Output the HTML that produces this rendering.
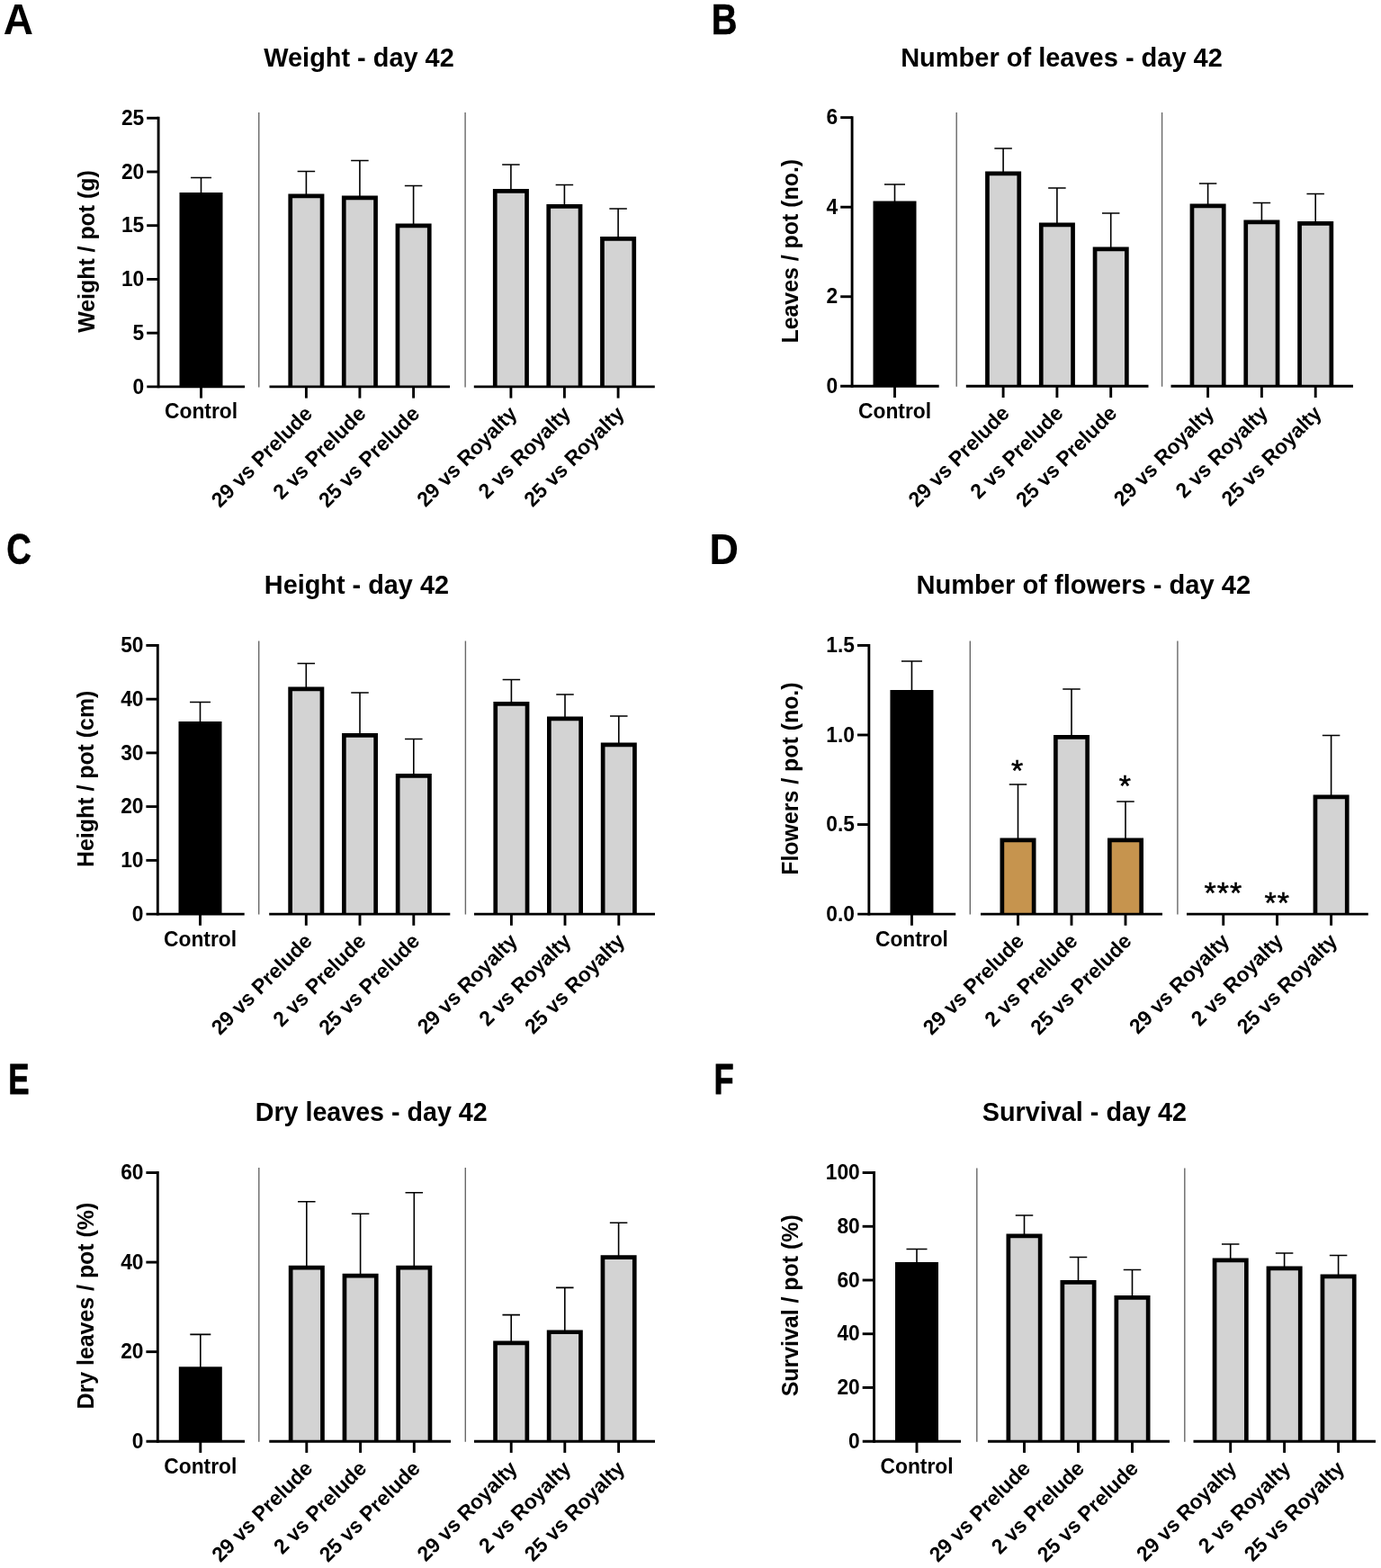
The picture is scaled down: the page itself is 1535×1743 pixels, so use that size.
<!DOCTYPE html>
<html lang="en">
<head>
<meta charset="utf-8">
<title>Plant growth parameters - day 42</title>
<style>
html,body{margin:0;padding:0;background:#fff;}
body{width:1535px;height:1743px;overflow:hidden;}
svg{display:block;}
text{font-family:"Liberation Sans", Arial, Helvetica, sans-serif;font-weight:700;fill:#000;}
.letter{font-size:47.85px;}
.title{text-anchor:middle;}
.ylabel{font-size:24.9px;text-anchor:middle;}
.tl{font-size:22.8px;text-anchor:end;}
.xl{font-size:22.8px;text-anchor:middle;}
.rl{font-size:22.8px;text-anchor:end;}
.star{font-size:34px;text-anchor:middle;font-weight:400;stroke:#000;stroke-width:0.5;letter-spacing:1px;}
.ax{stroke:#000;stroke-width:2.9;fill:none;}
.sep{stroke:#686868;stroke-width:1.4;}
.err{stroke:#000;stroke-width:1.6;fill:none;}
.ctrl{fill:#000;}
.bar{stroke:#000;stroke-width:4.7;stroke-linejoin:miter;}
.grey{fill:#d3d3d3;}
.tan{fill:#c6944e;}
</style>
</head>
<body>
<svg width="1535" height="1743" viewBox="0 0 1535 1743" role="img" aria-label="Bar charts of plant growth parameters at day 42">
<rect width="1535" height="1743" fill="#fff"/>
<g id="panel-A">
<text class="letter" transform="translate(3.85 37.9) scale(0.961 1)" stroke="#000" stroke-width="0">A</text>
<text class="title" transform="translate(399 73.6) scale(1 1.02)" font-size="28.9">Weight - day 42</text>
<text class="ylabel" transform="translate(105 279.5) rotate(-90) scale(1 1.02)">Weight / pot (g)</text>
<line class="sep" x1="287.75" y1="125" x2="287.75" y2="430.4"/>
<line class="sep" x1="517.1" y1="125" x2="517.1" y2="430.4"/>
<path class="err" d="M212 197.5 H235 M223.5 197.5 V216"/>
<path class="err" d="M330.65 190.5 H350.15 M340.4 190.5 V217.5"/>
<path class="err" d="M390.15 178.5 H409.65 M399.9 178.5 V219.5"/>
<path class="err" d="M449.85 206.5 H469.35 M459.6 206.5 V250.5"/>
<path class="err" d="M558.15 183 H577.65 M567.9 183 V212"/>
<path class="err" d="M617.65 205.5 H637.15 M627.4 205.5 V229"/>
<path class="err" d="M677.35 232 H696.85 M687.1 232 V265"/>
<rect class="ctrl" x="199.5" y="214" width="48" height="215.9"/>
<path class="bar grey" d="M322.75 429.9 V217.85 H358.05 V429.9"/>
<path class="bar grey" d="M382.25 429.9 V219.85 H417.55 V429.9"/>
<path class="bar grey" d="M441.95 429.9 V250.85 H477.25 V429.9"/>
<path class="bar grey" d="M550.25 429.9 V212.35 H585.55 V429.9"/>
<path class="bar grey" d="M609.75 429.9 V229.35 H645.05 V429.9"/>
<path class="bar grey" d="M669.45 429.9 V265.35 H704.75 V429.9"/>
<line class="ax" x1="176.1" y1="129.8" x2="176.1" y2="431.35"/>
<line class="ax" x1="163.2" y1="131.25" x2="176.1" y2="131.25"/>
<text class="tl" transform="translate(160.3 138.85) scale(1 1.04)">25</text>
<line class="ax" x1="163.2" y1="190.98" x2="176.1" y2="190.98"/>
<text class="tl" transform="translate(160.3 198.58) scale(1 1.04)">20</text>
<line class="ax" x1="163.2" y1="250.71" x2="176.1" y2="250.71"/>
<text class="tl" transform="translate(160.3 258.31) scale(1 1.04)">15</text>
<line class="ax" x1="163.2" y1="310.44" x2="176.1" y2="310.44"/>
<text class="tl" transform="translate(160.3 318.04) scale(1 1.04)">10</text>
<line class="ax" x1="163.2" y1="370.17" x2="176.1" y2="370.17"/>
<text class="tl" transform="translate(160.3 377.77) scale(1 1.04)">5</text>
<text class="tl" transform="translate(160.3 437.5) scale(1 1.04)">0</text>
<line class="ax" x1="163.3" y1="429.9" x2="272.1" y2="429.9"/>
<line class="ax" x1="299.5" y1="429.9" x2="500" y2="429.9"/>
<line class="ax" x1="526.8" y1="429.9" x2="727.8" y2="429.9"/>
<line class="ax" x1="223.5" y1="429.9" x2="223.5" y2="442.6"/>
<text class="xl" transform="translate(223.5 465.4) scale(1 1.02)">Control</text>
<line class="ax" x1="340.4" y1="429.9" x2="340.4" y2="442.6"/>
<text class="rl" transform="translate(348.4 461.4) rotate(-45) scale(1 1.02)">29 vs Prelude</text>
<line class="ax" x1="399.9" y1="429.9" x2="399.9" y2="442.6"/>
<text class="rl" transform="translate(407.9 461.4) rotate(-45) scale(1 1.02)">2 vs Prelude</text>
<line class="ax" x1="459.6" y1="429.9" x2="459.6" y2="442.6"/>
<text class="rl" transform="translate(467.6 461.4) rotate(-45) scale(1 1.02)">25 vs Prelude</text>
<line class="ax" x1="567.9" y1="429.9" x2="567.9" y2="442.6"/>
<text class="rl" transform="translate(575.9 461.4) rotate(-45) scale(1 1.02)">29 vs Royalty</text>
<line class="ax" x1="627.4" y1="429.9" x2="627.4" y2="442.6"/>
<text class="rl" transform="translate(635.4 461.4) rotate(-45) scale(1 1.02)">2 vs Royalty</text>
<line class="ax" x1="687.1" y1="429.9" x2="687.1" y2="442.6"/>
<text class="rl" transform="translate(695.1 461.4) rotate(-45) scale(1 1.02)">25 vs Royalty</text>
</g>
<g id="panel-B">
<text class="letter" transform="translate(790.8 37.9) scale(0.829 1)" stroke="#000" stroke-width="0.6">B</text>
<text class="title" transform="translate(1180 74) scale(1 1.02)" font-size="29.0">Number of leaves - day 42</text>
<text class="ylabel" transform="translate(887 279.2) rotate(-90) scale(1 1.02)">Leaves / pot (no.)</text>
<line class="sep" x1="1063.2" y1="125" x2="1063.2" y2="429.8"/>
<line class="sep" x1="1291.6" y1="125" x2="1291.6" y2="429.8"/>
<path class="err" d="M983 205 H1006 M994.5 205 V225.5"/>
<path class="err" d="M1105.35 165 H1124.85 M1115.1 165 V192.5"/>
<path class="err" d="M1165.15 209 H1184.65 M1174.9 209 V249.5"/>
<path class="err" d="M1224.95 237 H1244.45 M1234.7 237 V276.5"/>
<path class="err" d="M1332.85 204 H1352.35 M1342.6 204 V228.5"/>
<path class="err" d="M1392.65 225.5 H1412.15 M1402.4 225.5 V246.5"/>
<path class="err" d="M1452.45 215.5 H1471.95 M1462.2 215.5 V248"/>
<rect class="ctrl" x="970.5" y="223.5" width="48" height="205.8"/>
<path class="bar grey" d="M1097.45 429.3 V192.85 H1132.75 V429.3"/>
<path class="bar grey" d="M1157.25 429.3 V249.85 H1192.55 V429.3"/>
<path class="bar grey" d="M1217.05 429.3 V276.85 H1252.35 V429.3"/>
<path class="bar grey" d="M1324.95 429.3 V228.85 H1360.25 V429.3"/>
<path class="bar grey" d="M1384.75 429.3 V246.85 H1420.05 V429.3"/>
<path class="bar grey" d="M1444.55 429.3 V248.35 H1479.85 V429.3"/>
<line class="ax" x1="947.1" y1="129.2" x2="947.1" y2="430.75"/>
<line class="ax" x1="934.2" y1="130.65" x2="947.1" y2="130.65"/>
<text class="tl" transform="translate(931.3 138.25) scale(1 1.04)">6</text>
<line class="ax" x1="934.2" y1="230.2" x2="947.1" y2="230.2"/>
<text class="tl" transform="translate(931.3 237.8) scale(1 1.04)">4</text>
<line class="ax" x1="934.2" y1="329.75" x2="947.1" y2="329.75"/>
<text class="tl" transform="translate(931.3 337.35) scale(1 1.04)">2</text>
<text class="tl" transform="translate(931.3 436.9) scale(1 1.04)">0</text>
<line class="ax" x1="934.1" y1="429.3" x2="1043.7" y2="429.3"/>
<line class="ax" x1="1073.8" y1="429.3" x2="1276.5" y2="429.3"/>
<line class="ax" x1="1301.5" y1="429.3" x2="1504" y2="429.3"/>
<line class="ax" x1="994.5" y1="429.3" x2="994.5" y2="442"/>
<text class="xl" transform="translate(994.5 464.8) scale(1 1.02)">Control</text>
<line class="ax" x1="1115.1" y1="429.3" x2="1115.1" y2="442"/>
<text class="rl" transform="translate(1123.1 460.8) rotate(-45) scale(1 1.02)">29 vs Prelude</text>
<line class="ax" x1="1174.9" y1="429.3" x2="1174.9" y2="442"/>
<text class="rl" transform="translate(1182.9 460.8) rotate(-45) scale(1 1.02)">2 vs Prelude</text>
<line class="ax" x1="1234.7" y1="429.3" x2="1234.7" y2="442"/>
<text class="rl" transform="translate(1242.7 460.8) rotate(-45) scale(1 1.02)">25 vs Prelude</text>
<line class="ax" x1="1342.6" y1="429.3" x2="1342.6" y2="442"/>
<text class="rl" transform="translate(1350.6 460.8) rotate(-45) scale(1 1.02)">29 vs Royalty</text>
<line class="ax" x1="1402.4" y1="429.3" x2="1402.4" y2="442"/>
<text class="rl" transform="translate(1410.4 460.8) rotate(-45) scale(1 1.02)">2 vs Royalty</text>
<line class="ax" x1="1462.2" y1="429.3" x2="1462.2" y2="442"/>
<text class="rl" transform="translate(1470.2 460.8) rotate(-45) scale(1 1.02)">25 vs Royalty</text>
</g>
<g id="panel-C">
<text class="letter" transform="translate(7.2 627.2) scale(0.798 1)" stroke="#000" stroke-width="0.6">C</text>
<text class="title" transform="translate(396.4 660.3) scale(1 1.02)" font-size="28.85">Height - day 42</text>
<text class="ylabel" transform="translate(104.3 865.8) rotate(-90) scale(1 1.02)">Height / pot (cm)</text>
<line class="sep" x1="287.7" y1="712.5" x2="287.7" y2="1016.6"/>
<line class="sep" x1="517.4" y1="712.5" x2="517.4" y2="1016.6"/>
<path class="err" d="M211 780.5 H234 M222.5 780.5 V804"/>
<path class="err" d="M330.55 737.5 H350.05 M340.3 737.5 V765.5"/>
<path class="err" d="M390.25 770 H409.75 M400 770 V817"/>
<path class="err" d="M450.05 821.5 H469.55 M459.8 821.5 V862"/>
<path class="err" d="M558.65 755.5 H578.15 M568.4 755.5 V782"/>
<path class="err" d="M618.25 772 H637.75 M628 772 V798.5"/>
<path class="err" d="M678.05 796 H697.55 M687.8 796 V827.5"/>
<rect class="ctrl" x="198.5" y="802" width="48" height="214.1"/>
<path class="bar grey" d="M322.65 1016.1 V765.85 H357.95 V1016.1"/>
<path class="bar grey" d="M382.35 1016.1 V817.35 H417.65 V1016.1"/>
<path class="bar grey" d="M442.15 1016.1 V862.35 H477.45 V1016.1"/>
<path class="bar grey" d="M550.75 1016.1 V782.35 H586.05 V1016.1"/>
<path class="bar grey" d="M610.35 1016.1 V798.85 H645.65 V1016.1"/>
<path class="bar grey" d="M670.15 1016.1 V827.85 H705.45 V1016.1"/>
<line class="ax" x1="175.3" y1="716" x2="175.3" y2="1017.55"/>
<line class="ax" x1="162.4" y1="717.45" x2="175.3" y2="717.45"/>
<text class="tl" transform="translate(159.5 725.05) scale(1 1.04)">50</text>
<line class="ax" x1="162.4" y1="777.18" x2="175.3" y2="777.18"/>
<text class="tl" transform="translate(159.5 784.78) scale(1 1.04)">40</text>
<line class="ax" x1="162.4" y1="836.91" x2="175.3" y2="836.91"/>
<text class="tl" transform="translate(159.5 844.51) scale(1 1.04)">30</text>
<line class="ax" x1="162.4" y1="896.64" x2="175.3" y2="896.64"/>
<text class="tl" transform="translate(159.5 904.24) scale(1 1.04)">20</text>
<line class="ax" x1="162.4" y1="956.37" x2="175.3" y2="956.37"/>
<text class="tl" transform="translate(159.5 963.97) scale(1 1.04)">10</text>
<text class="tl" transform="translate(159.5 1023.7) scale(1 1.04)">0</text>
<line class="ax" x1="162.5" y1="1016.1" x2="271.7" y2="1016.1"/>
<line class="ax" x1="299.2" y1="1016.1" x2="500.3" y2="1016.1"/>
<line class="ax" x1="527" y1="1016.1" x2="728" y2="1016.1"/>
<line class="ax" x1="222.5" y1="1016.1" x2="222.5" y2="1028.8"/>
<text class="xl" transform="translate(222.5 1051.6) scale(1 1.02)">Control</text>
<line class="ax" x1="340.3" y1="1016.1" x2="340.3" y2="1028.8"/>
<text class="rl" transform="translate(348.3 1047.6) rotate(-45) scale(1 1.02)">29 vs Prelude</text>
<line class="ax" x1="400" y1="1016.1" x2="400" y2="1028.8"/>
<text class="rl" transform="translate(408 1047.6) rotate(-45) scale(1 1.02)">2 vs Prelude</text>
<line class="ax" x1="459.8" y1="1016.1" x2="459.8" y2="1028.8"/>
<text class="rl" transform="translate(467.8 1047.6) rotate(-45) scale(1 1.02)">25 vs Prelude</text>
<line class="ax" x1="568.4" y1="1016.1" x2="568.4" y2="1028.8"/>
<text class="rl" transform="translate(576.4 1047.6) rotate(-45) scale(1 1.02)">29 vs Royalty</text>
<line class="ax" x1="628" y1="1016.1" x2="628" y2="1028.8"/>
<text class="rl" transform="translate(636 1047.6) rotate(-45) scale(1 1.02)">2 vs Royalty</text>
<line class="ax" x1="687.8" y1="1016.1" x2="687.8" y2="1028.8"/>
<text class="rl" transform="translate(695.8 1047.6) rotate(-45) scale(1 1.02)">25 vs Royalty</text>
</g>
<g id="panel-D">
<text class="letter" transform="translate(788.5 626.9) scale(0.938 1)" stroke="#000" stroke-width="0.2">D</text>
<text class="title" transform="translate(1204.3 660.4) scale(1 1.02)" font-size="29.1">Number of flowers - day 42</text>
<text class="ylabel" transform="translate(887 865.6) rotate(-90) scale(1 1.02)">Flowers / pot (no.)</text>
<line class="sep" x1="1078.3" y1="712.5" x2="1078.3" y2="1016.6"/>
<line class="sep" x1="1308.9" y1="712.5" x2="1308.9" y2="1016.6"/>
<path class="err" d="M1001.95 735 H1024.95 M1013.45 735 V769"/>
<path class="err" d="M1121.75 872 H1141.25 M1131.5 872 V933.5"/>
<path class="err" d="M1181.25 766 H1200.75 M1191 766 V819"/>
<path class="err" d="M1241.25 891 H1260.75 M1251 891 V933.5"/>
<path class="err" d="M1469.85 817.5 H1489.35 M1479.6 817.5 V885.5"/>
<rect class="ctrl" x="989.45" y="767" width="48" height="249.1"/>
<path class="bar tan" d="M1113.85 1016.1 V933.85 H1149.15 V1016.1"/>
<path class="bar grey" d="M1173.35 1016.1 V819.35 H1208.65 V1016.1"/>
<path class="bar tan" d="M1233.35 1016.1 V933.85 H1268.65 V1016.1"/>
<path class="bar grey" d="M1461.95 1016.1 V885.85 H1497.25 V1016.1"/>
<line class="ax" x1="965.85" y1="716" x2="965.85" y2="1017.55"/>
<line class="ax" x1="952.95" y1="717.45" x2="965.85" y2="717.45"/>
<text class="tl" transform="translate(950.05 725.05) scale(1 1.04)">1.5</text>
<line class="ax" x1="952.95" y1="817" x2="965.85" y2="817"/>
<text class="tl" transform="translate(950.05 824.6) scale(1 1.04)">1.0</text>
<line class="ax" x1="952.95" y1="916.55" x2="965.85" y2="916.55"/>
<text class="tl" transform="translate(950.05 924.15) scale(1 1.04)">0.5</text>
<text class="tl" transform="translate(950.05 1023.7) scale(1 1.04)">0.0</text>
<line class="ax" x1="953.2" y1="1016.1" x2="1062.2" y2="1016.1"/>
<line class="ax" x1="1090" y1="1016.1" x2="1292" y2="1016.1"/>
<line class="ax" x1="1319" y1="1016.1" x2="1520.8" y2="1016.1"/>
<line class="ax" x1="1013.45" y1="1016.1" x2="1013.45" y2="1028.8"/>
<text class="xl" transform="translate(1013.45 1051.6) scale(1 1.02)">Control</text>
<line class="ax" x1="1131.5" y1="1016.1" x2="1131.5" y2="1028.8"/>
<text class="rl" transform="translate(1139.5 1047.6) rotate(-45) scale(1 1.02)">29 vs Prelude</text>
<line class="ax" x1="1191" y1="1016.1" x2="1191" y2="1028.8"/>
<text class="rl" transform="translate(1199 1047.6) rotate(-45) scale(1 1.02)">2 vs Prelude</text>
<line class="ax" x1="1251" y1="1016.1" x2="1251" y2="1028.8"/>
<text class="rl" transform="translate(1259 1047.6) rotate(-45) scale(1 1.02)">25 vs Prelude</text>
<line class="ax" x1="1359.75" y1="1016.1" x2="1359.75" y2="1028.8"/>
<text class="rl" transform="translate(1367.75 1047.6) rotate(-45) scale(1 1.02)">29 vs Royalty</text>
<line class="ax" x1="1419.55" y1="1016.1" x2="1419.55" y2="1028.8"/>
<text class="rl" transform="translate(1427.55 1047.6) rotate(-45) scale(1 1.02)">2 vs Royalty</text>
<line class="ax" x1="1479.6" y1="1016.1" x2="1479.6" y2="1028.8"/>
<text class="rl" transform="translate(1487.6 1047.6) rotate(-45) scale(1 1.02)">25 vs Royalty</text>
<text class="star" x="1131.1" y="868">*</text>
<text class="star" x="1250.8" y="885">*</text>
<text class="star" x="1359.9" y="1003.8">***</text>
<text class="star" x="1419.7" y="1014.7">**</text>
</g>
<g id="panel-E">
<text class="letter" transform="translate(9.34 1215.8) scale(0.73 1)" stroke="#000" stroke-width="0.8">E</text>
<text class="title" transform="translate(412.7 1246.1) scale(1 1.02)" font-size="28.65">Dry leaves - day 42</text>
<text class="ylabel" transform="translate(104.3 1451.6) rotate(-90) scale(1 1.02)">Dry leaves / pot (%)</text>
<line class="sep" x1="287.8" y1="1298" x2="287.8" y2="1602.7"/>
<line class="sep" x1="517.3" y1="1298" x2="517.3" y2="1602.7"/>
<path class="err" d="M211.3 1483.4 H234.3 M222.8 1483.4 V1521.3"/>
<path class="err" d="M331.05 1335.8 H350.55 M340.8 1335.8 V1408.7"/>
<path class="err" d="M390.85 1349.3 H410.35 M400.6 1349.3 V1417.7"/>
<path class="err" d="M450.55 1325.8 H470.05 M460.3 1325.8 V1408.7"/>
<path class="err" d="M558.45 1461.6 H577.95 M568.2 1461.6 V1492.5"/>
<path class="err" d="M618.05 1431.4 H637.55 M627.8 1431.4 V1480.4"/>
<path class="err" d="M677.85 1359.3 H697.35 M687.6 1359.3 V1397.3"/>
<rect class="ctrl" x="198.8" y="1519.3" width="48" height="82.9"/>
<path class="bar grey" d="M323.15 1602.2 V1409.05 H358.45 V1602.2"/>
<path class="bar grey" d="M382.95 1602.2 V1418.05 H418.25 V1602.2"/>
<path class="bar grey" d="M442.65 1602.2 V1409.05 H477.95 V1602.2"/>
<path class="bar grey" d="M550.55 1602.2 V1492.85 H585.85 V1602.2"/>
<path class="bar grey" d="M610.15 1602.2 V1480.75 H645.45 V1602.2"/>
<path class="bar grey" d="M669.95 1602.2 V1397.65 H705.25 V1602.2"/>
<line class="ax" x1="175.3" y1="1302.1" x2="175.3" y2="1603.65"/>
<line class="ax" x1="162.4" y1="1303.55" x2="175.3" y2="1303.55"/>
<text class="tl" transform="translate(159.5 1311.15) scale(1 1.04)">60</text>
<line class="ax" x1="162.4" y1="1403.1" x2="175.3" y2="1403.1"/>
<text class="tl" transform="translate(159.5 1410.7) scale(1 1.04)">40</text>
<line class="ax" x1="162.4" y1="1502.65" x2="175.3" y2="1502.65"/>
<text class="tl" transform="translate(159.5 1510.25) scale(1 1.04)">20</text>
<text class="tl" transform="translate(159.5 1609.8) scale(1 1.04)">0</text>
<line class="ax" x1="162.5" y1="1602.2" x2="272" y2="1602.2"/>
<line class="ax" x1="299.3" y1="1602.2" x2="501" y2="1602.2"/>
<line class="ax" x1="527" y1="1602.2" x2="728" y2="1602.2"/>
<line class="ax" x1="222.8" y1="1602.2" x2="222.8" y2="1614.9"/>
<text class="xl" transform="translate(222.8 1637.7) scale(1 1.02)">Control</text>
<line class="ax" x1="340.8" y1="1602.2" x2="340.8" y2="1614.9"/>
<text class="rl" transform="translate(348.8 1633.7) rotate(-45) scale(1 1.02)">29 vs Prelude</text>
<line class="ax" x1="400.6" y1="1602.2" x2="400.6" y2="1614.9"/>
<text class="rl" transform="translate(408.6 1633.7) rotate(-45) scale(1 1.02)">2 vs Prelude</text>
<line class="ax" x1="460.3" y1="1602.2" x2="460.3" y2="1614.9"/>
<text class="rl" transform="translate(468.3 1633.7) rotate(-45) scale(1 1.02)">25 vs Prelude</text>
<line class="ax" x1="568.2" y1="1602.2" x2="568.2" y2="1614.9"/>
<text class="rl" transform="translate(576.2 1633.7) rotate(-45) scale(1 1.02)">29 vs Royalty</text>
<line class="ax" x1="627.8" y1="1602.2" x2="627.8" y2="1614.9"/>
<text class="rl" transform="translate(635.8 1633.7) rotate(-45) scale(1 1.02)">2 vs Royalty</text>
<line class="ax" x1="687.6" y1="1602.2" x2="687.6" y2="1614.9"/>
<text class="rl" transform="translate(695.6 1633.7) rotate(-45) scale(1 1.02)">25 vs Royalty</text>
</g>
<g id="panel-F">
<text class="letter" transform="translate(793.55 1215.8) scale(0.758 1)" stroke="#000" stroke-width="0.8">F</text>
<text class="title" transform="translate(1205.4 1246.1) scale(1 1.02)" font-size="28.8">Survival - day 42</text>
<text class="ylabel" transform="translate(887 1451.3) rotate(-90) scale(1 1.02)">Survival / pot (%)</text>
<line class="sep" x1="1085.8" y1="1298.6" x2="1085.8" y2="1602.7"/>
<line class="sep" x1="1316.8" y1="1298.6" x2="1316.8" y2="1602.7"/>
<path class="err" d="M1007.5 1388.5 H1030.5 M1019 1388.5 V1405"/>
<path class="err" d="M1128.75 1351 H1148.25 M1138.5 1351 V1373.5"/>
<path class="err" d="M1188.75 1397.5 H1208.25 M1198.5 1397.5 V1425"/>
<path class="err" d="M1248.75 1411.5 H1268.25 M1258.5 1411.5 V1442"/>
<path class="err" d="M1357.95 1383 H1377.45 M1367.7 1383 V1400.5"/>
<path class="err" d="M1417.85 1393 H1437.35 M1427.6 1393 V1409.5"/>
<path class="err" d="M1477.85 1395.5 H1497.35 M1487.6 1395.5 V1418.5"/>
<rect class="ctrl" x="995" y="1403" width="48" height="199.2"/>
<path class="bar grey" d="M1120.85 1602.2 V1373.85 H1156.15 V1602.2"/>
<path class="bar grey" d="M1180.85 1602.2 V1425.35 H1216.15 V1602.2"/>
<path class="bar grey" d="M1240.85 1602.2 V1442.35 H1276.15 V1602.2"/>
<path class="bar grey" d="M1350.05 1602.2 V1400.85 H1385.35 V1602.2"/>
<path class="bar grey" d="M1409.95 1602.2 V1409.85 H1445.25 V1602.2"/>
<path class="bar grey" d="M1469.95 1602.2 V1418.85 H1505.25 V1602.2"/>
<line class="ax" x1="971.56" y1="1302.1" x2="971.56" y2="1603.65"/>
<line class="ax" x1="958.66" y1="1303.55" x2="971.56" y2="1303.55"/>
<text class="tl" transform="translate(955.76 1311.15) scale(1 1.04)">100</text>
<line class="ax" x1="958.66" y1="1363.28" x2="971.56" y2="1363.28"/>
<text class="tl" transform="translate(955.76 1370.88) scale(1 1.04)">80</text>
<line class="ax" x1="958.66" y1="1423.01" x2="971.56" y2="1423.01"/>
<text class="tl" transform="translate(955.76 1430.61) scale(1 1.04)">60</text>
<line class="ax" x1="958.66" y1="1482.74" x2="971.56" y2="1482.74"/>
<text class="tl" transform="translate(955.76 1490.34) scale(1 1.04)">40</text>
<line class="ax" x1="958.66" y1="1542.47" x2="971.56" y2="1542.47"/>
<text class="tl" transform="translate(955.76 1550.07) scale(1 1.04)">20</text>
<text class="tl" transform="translate(955.76 1609.8) scale(1 1.04)">0</text>
<line class="ax" x1="958.75" y1="1602.2" x2="1068" y2="1602.2"/>
<line class="ax" x1="1098" y1="1602.2" x2="1300" y2="1602.2"/>
<line class="ax" x1="1326.5" y1="1602.2" x2="1529" y2="1602.2"/>
<line class="ax" x1="1019" y1="1602.2" x2="1019" y2="1614.9"/>
<text class="xl" transform="translate(1019 1637.7) scale(1 1.02)">Control</text>
<line class="ax" x1="1138.5" y1="1602.2" x2="1138.5" y2="1614.9"/>
<text class="rl" transform="translate(1146.5 1633.7) rotate(-45) scale(1 1.02)">29 vs Prelude</text>
<line class="ax" x1="1198.5" y1="1602.2" x2="1198.5" y2="1614.9"/>
<text class="rl" transform="translate(1206.5 1633.7) rotate(-45) scale(1 1.02)">2 vs Prelude</text>
<line class="ax" x1="1258.5" y1="1602.2" x2="1258.5" y2="1614.9"/>
<text class="rl" transform="translate(1266.5 1633.7) rotate(-45) scale(1 1.02)">25 vs Prelude</text>
<line class="ax" x1="1367.7" y1="1602.2" x2="1367.7" y2="1614.9"/>
<text class="rl" transform="translate(1375.7 1633.7) rotate(-45) scale(1 1.02)">29 vs Royalty</text>
<line class="ax" x1="1427.6" y1="1602.2" x2="1427.6" y2="1614.9"/>
<text class="rl" transform="translate(1435.6 1633.7) rotate(-45) scale(1 1.02)">2 vs Royalty</text>
<line class="ax" x1="1487.6" y1="1602.2" x2="1487.6" y2="1614.9"/>
<text class="rl" transform="translate(1495.6 1633.7) rotate(-45) scale(1 1.02)">25 vs Royalty</text>
</g>
</svg>
</body>
</html>
